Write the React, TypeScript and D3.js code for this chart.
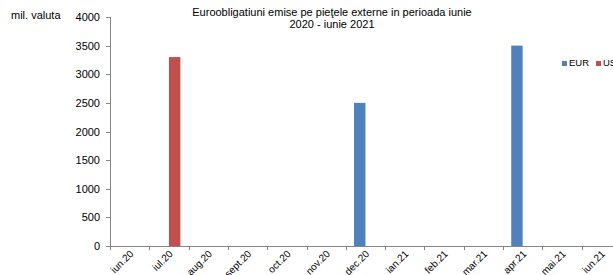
import React from "react";
import * as d3 from "d3";

// ---- data ----
const categories = [
  "iun.20", "iul.20", "aug.20", "sept.20", "oct.20", "nov.20", "dec.20",
  "ian.21", "feb.21", "mar.21", "apr.21", "mai.21", "iun.21",
];
const seriesNames = ["EUR", "USD"];
const eurValues = [0, 0, 0, 0, 0, 0, 2500, 0, 0, 0, 3500, 0, 0];
const usdValues = [0, 3300, 0, 0, 0, 0, 0, 0, 0, 0, 0, 0, 0];
const yTicks = [0, 500, 1000, 1500, 2000, 2500, 3000, 3500, 4000];
const colors = ["#4F81BD", "#C0504D"];

const titleLines = [
  "Euroobligatiuni emise pe pieţele externe in perioada iunie",
  "2020 - iunie 2021",
];

export default function App() {
  const width = 613;
  const height = 275;
  const font = "'Liberation Sans', Arial, sans-serif";

  /* ---- scales ---- */
  const left = 110;
  const step = 39.3;
  const x0 = d3.scaleBand()
    .domain(categories)
    .range([left, left + step * categories.length])
    .paddingInner(0)
    .paddingOuter(0);

  const x1 = d3.scaleBand()
    .domain(seriesNames)
    .range([0, x0.bandwidth()])
    .paddingInner(0)
    .paddingOuter(0.72);

  const y = d3.scaleLinear().domain([0, 4000]).range([246, 17]);

  const values = [eurValues, usdValues];
  const axisColor = "#868686";

  return (
    <svg
      width={width}
      height={height}
      style={{ position: "absolute", left: 0, top: 0, background: "#fff" }}
      fontFamily={font}
    >
      {/* title */}
      <text x={332} y={16} textAnchor="middle" fontSize={11} fill="#000">
        {titleLines.map((l, i) => (
          <tspan key={i} x={332} dy={i === 0 ? 0 : 11.5}>{l}</tspan>
        ))}
      </text>

      {/* y unit label */}
      <text x={11} y={19} fontSize={11} fill="#000">mil. valuta</text>

      {/* bars */}
      {seriesNames.map((s, si) =>
        categories.map((c, ci) => {
          const v = values[si][ci];
          if (!v) return null;
          return (
            <rect
              key={s + c}
              x={(x0(c) as number) + (x1(s) as number)}
              y={y(v)}
              width={x1.bandwidth()}
              height={y(0) - y(v)}
              fill={colors[si]}
            />
          );
        })
      )}

      {/* y axis */}
      <line x1={left + 0.5} x2={left + 0.5} y1={y(4000)} y2={y(0)} stroke={axisColor} />
      {yTicks.map(t => (
        <g key={t} transform={`translate(0,${Math.round(y(t)) + 0.5})`}>
          <line x1={left - 4} x2={left} stroke={axisColor} />
          <text x={100} dy="0.35em" textAnchor="end" fontSize={11} fill="#000">{t}</text>
        </g>
      ))}

      {/* x axis */}
      <line x1={left} x2={left + step * categories.length} y1={y(0) + 0.5} y2={y(0) + 0.5} stroke={axisColor} />
      {categories.map((c, i) => {
        const bx = Math.round((x0(c) as number)) + 0.5;
        const cx = (x0(c) as number) + x0.bandwidth() / 2;
        return (
          <g key={c}>
            <line x1={bx} x2={bx} y1={y(0)} y2={y(0) + 4} stroke={axisColor} />
            <text
              transform={`translate(${cx + 2},${y(0) + 6}) rotate(-45)`}
              textAnchor="end"
              dy="0.35em"
              fontSize={10}
              fill="#000"
            >
              {c}
            </text>
          </g>
        );
      })}

      {/* legend */}
      {seriesNames.map((s, i) => (
        <g key={s} transform={`translate(${562 + i * 34},61)`}>
          <rect width={5} height={5} fill={colors[i]} />
          <text x={7} y={5} fontSize={9.5} fill="#000">{s}</text>
        </g>
      ))}
    </svg>
  );
}
